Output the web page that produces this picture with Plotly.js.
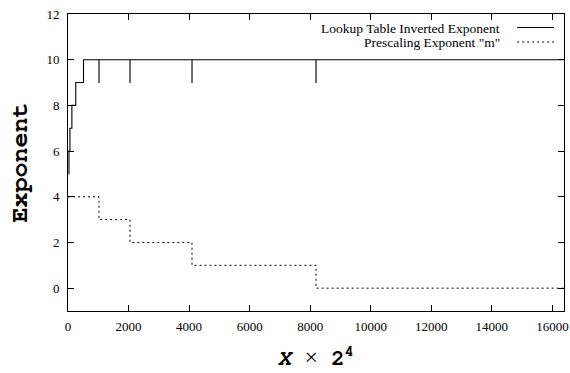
<!DOCTYPE html>
<html>
<head>
<meta charset="utf-8">
<script src="https://cdn.plot.ly/plotly-3.0.1.min.js"></script>
<style>html,body{margin:0;padding:0;background:#fff;}#chart{width:570px;height:373px;}</style>
</head>
<body>
<div id="chart"></div>
<script>
// Lookup Table Inverted Exponent (step function, with dips at prescale boundaries)
var lutX = [16, 32, 64, 128, 256, 512, 1024, 1025, 2048, 2049, 4096, 4097, 8192, 8193, 16384];
var lutY = [5, 6, 7, 8, 9, 10, 9, 10, 9, 10, 9, 10, 9, 10, 10];
// Prescaling Exponent "m"
var mX = [0, 1024, 2048, 4096, 8192, 16384];
var mY = [4, 3, 2, 1, 0, 0];
var seriesNames = ['Lookup Table Inverted Exponent', 'Prescaling Exponent "m"'];
var xTicks = [0, 2000, 4000, 6000, 8000, 10000, 12000, 14000, 16000];
var yTicks = [0, 2, 4, 6, 8, 10, 12];

var serif = 'Liberation Serif, serif';
var mono = 'Nimbus Mono PS, Nimbus Mono L, FreeMono, Liberation Mono, monospace';

var traces = [
  {x: lutX, y: lutY, mode: 'lines', line: {shape: 'hv', color: '#000', width: 1.1}, name: seriesNames[0], showlegend: false},
  {x: mX, y: mY, mode: 'lines', line: {shape: 'hv', color: '#000', width: 1, dash: '2px,3px'}, name: seriesNames[1], showlegend: false}
];

function axisBase() {
  return {
    showgrid: false, zeroline: false, showline: true, linecolor: '#000', linewidth: 1,
    mirror: 'allticks', ticks: 'inside', ticklen: 6, tickwidth: 1, tickcolor: '#000',
    tickfont: {family: serif, size: 13, color: '#000'}
  };
}

var layout = {
  width: 570, height: 373,
  margin: {l: 68, r: 6, t: 14, b: 62},
  paper_bgcolor: '#fff', plot_bgcolor: '#fff',
  font: {family: serif, size: 13, color: '#000'},
  showlegend: false,
  xaxis: Object.assign(axisBase(), {
    range: [0, 16384], tickvals: xTicks, ticktext: xTicks.map(String),
    ticklabelstandoff: 3,
    title: {text: '<b><i>X</i></b> <span style="font-family:Liberation Serif;font-size:24px">×</span> <b>2<sup>4</sup></b>',
            font: {family: mono, size: 22, color: '#000'}, standoff: 17}
  }),
  yaxis: Object.assign(axisBase(), {
    range: [-1, 12], tickvals: yTicks, ticktext: yTicks.map(String),
    ticklabelstandoff: 5,
    title: {text: '<b>Exponent</b>', font: {family: mono, size: 25, color: '#000'}, standoff: 11}
  }),
  annotations: [
    {xref: 'paper', yref: 'paper', x: 0.875, y: 0.951, xanchor: 'right', yanchor: 'middle', showarrow: false,
     text: seriesNames[0], font: {family: serif, size: 13.5, color: '#000'}},
    {xref: 'paper', yref: 'paper', x: 0.875, y: 0.903, xanchor: 'right', yanchor: 'middle', showarrow: false,
     text: seriesNames[1], font: {family: serif, size: 13.5, color: '#000'}}
  ],
  shapes: [
    {type: 'line', xref: 'paper', yref: 'paper', x0: 0.9056, x1: 0.9798, y0: 0.9545, y1: 0.9545, line: {color: '#000', width: 1.1}},
    {type: 'line', xref: 'paper', yref: 'paper', x0: 0.9056, x1: 0.9798, y0: 0.9057, y1: 0.9057, line: {color: '#000', width: 1, dash: '2px,3px'}}
  ]
};

Plotly.newPlot('chart', traces, layout, {staticPlot: true, displayModeBar: false});
</script>
</body>
</html>
